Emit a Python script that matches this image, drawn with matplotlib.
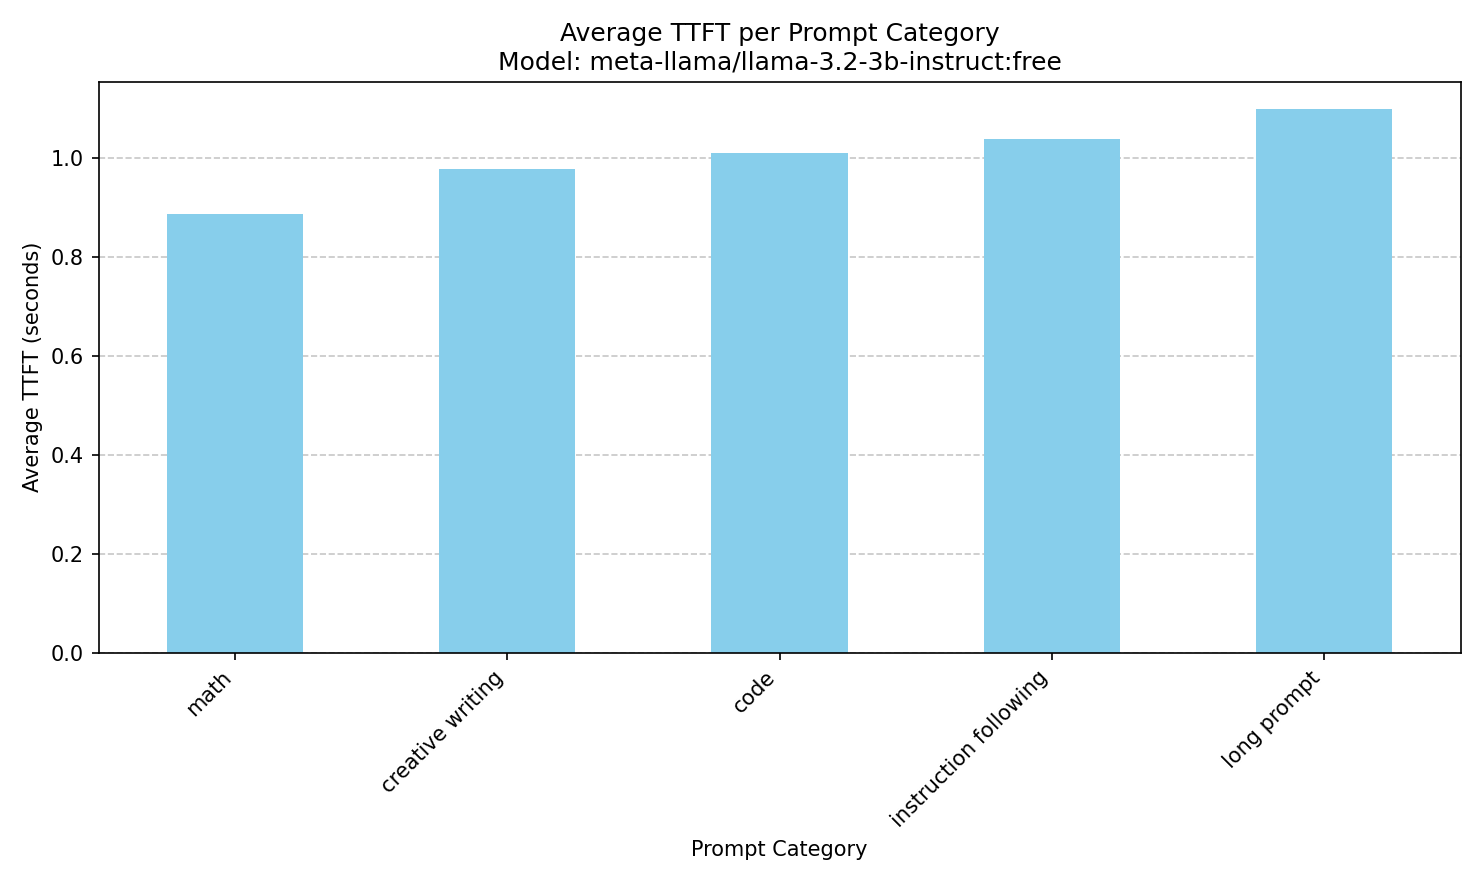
import matplotlib
matplotlib.use("Agg")
import matplotlib.pyplot as plt

categories = ["math", "creative writing", "code", "instruction following", "long prompt"]
ttft = [0.886, 0.976, 1.010, 1.037, 1.098]

fig, ax = plt.subplots(figsize=(1483/150, 882/150), dpi=150)
ax.bar(range(len(categories)), ttft, width=0.5, color="skyblue")
ax.set_xticks(range(len(categories)))
ax.set_xticklabels(categories, rotation=45, ha="right")
ax.set_xlim(-0.5, len(categories) - 0.5)
ax.set_title("Average TTFT per Prompt Category\nModel: meta-llama/llama-3.2-3b-instruct:free")
ax.set_xlabel("Prompt Category")
ax.set_ylabel("Average TTFT (seconds)")
ax.yaxis.grid(True, linestyle="--", alpha=0.7)
ax.set_axisbelow(True)
fig.tight_layout()
fig.savefig("out.png")
